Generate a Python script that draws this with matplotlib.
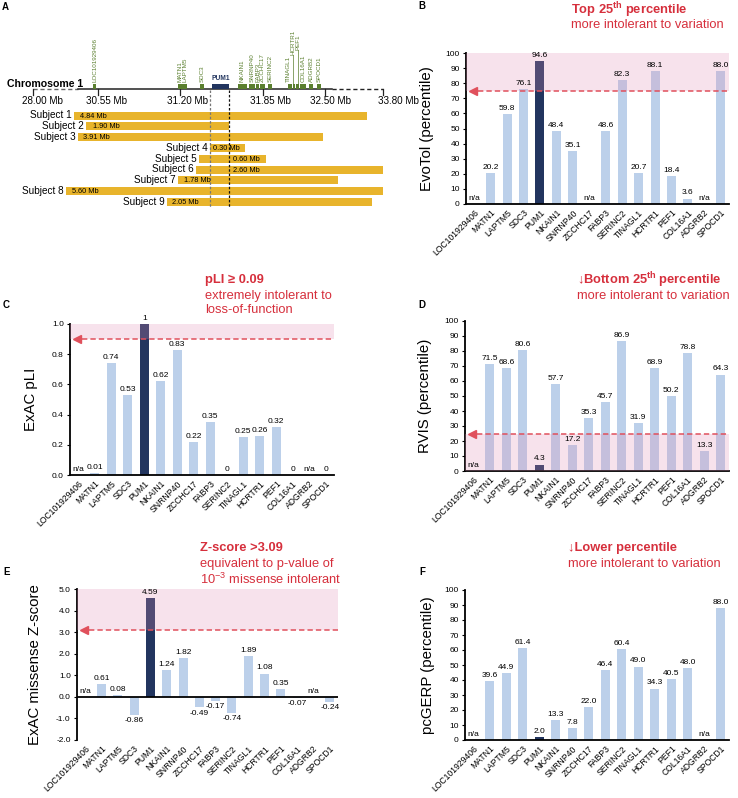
import matplotlib
matplotlib.use('Agg')
import matplotlib.pyplot as plt
import numpy as np
from matplotlib.transforms import blended_transform_factory

plt.rcParams['font.family'] = ['Liberation Sans', 'DejaVu Sans']
plt.rcParams['mathtext.fontset'] = 'custom'
plt.rcParams['mathtext.rm'] = 'Liberation Sans'
plt.rcParams['mathtext.bf'] = 'Liberation Sans:bold'
plt.rcParams['mathtext.it'] = 'Liberation Sans:italic'

# ---------------- data ----------------
genes = ['LOC101929406', 'MATN1', 'LAPTM5', 'SDC3', 'PUM1', 'NKAIN1', 'SNRNP40',
         'ZCCHC17', 'FABP3', 'SERINC2', 'TINAGL1', 'HCRTR1', 'PEF1', 'COL16A1',
         'ADGRB2', 'SPOCD1']
evotol = [None, 20.2, 59.8, 76.1, 94.6, 48.4, 35.1, None, 48.6, 82.3, 20.7, 88.1, 18.4, 3.6, None, 88.0]
pli = [None, 0.01, 0.74, 0.53, 1, 0.62, 0.83, 0.22, 0.35, 0, 0.25, 0.26, 0.32, 0, None, 0]
rvis = [None, 71.5, 68.6, 80.6, 4.3, 57.7, 17.2, 35.3, 45.7, 86.9, 31.9, 68.9, 50.2, 78.8, 13.3, 64.3]
zscore = [None, 0.61, 0.08, -0.86, 4.59, 1.24, 1.82, -0.49, -0.17, -0.74, 1.89, 1.08, 0.35, -0.07, None, -0.24]
pcgerp = [None, 39.6, 44.9, 61.4, 2.0, 13.3, 7.8, 22.0, 46.4, 60.4, 49.0, 34.3, 40.5, 48.0, None, 88.0]

# panel A schematic (schematic x units)
chrom_tick_labels = ['28.00 Mb', '30.55 Mb', '31.20 Mb', '31.85 Mb', '32.50 Mb', '33.80 Mb']
subjects = ['Subject %d' % i for i in range(1, 10)]
del_sizes = ['4.84 Mb', '1.90 Mb', '3.91 Mb', '0.30 Mb', '0.60 Mb', '2.60 Mb', '1.78 Mb', '5.60 Mb', '2.05 Mb']
del_start = [74, 86, 78, 210, 199, 196, 178, 66, 167]
del_end = [367, 229, 323, 245, 266, 383, 338, 383, 372]
region_genes = ['LOC101929406', 'MATN1', 'LAPTM5', 'SDC3', 'NKAIN1', 'SNRNP40', 'FABP3',
                'ZCCHC17', 'SERINC2', 'TINAGL1', 'HCRTR1', 'PEF1', 'COL16A1', 'ADGRB2', 'SPOCD1']
gene_start = [93, 178, 182.5, 200, 238, 249, 256, 260, 268, 288, 293, 296, 300, 309, 317]
gene_end = [96.5, 182, 187, 204, 247, 255, 259.5, 265, 272, 292, 295.5, 299, 306, 313, 321]
pum1_span = (212, 229)

# ---------------- style ----------------
W, H = 738, 798
LIGHT = '#bcd0ea'
NAVY = '#22355f'
RED = '#d62f3c'
DASH_RED = '#e0505c'
PINK = '#e38fb4'
YELLOW = '#e8b42c'
GREEN = '#5a7f2e'

fig = plt.figure(figsize=(W / 100, H / 100), dpi=100)


def px_axes(x0, y0, x1, y1):
    return fig.add_axes([x0 / W, 1 - y1 / H, (x1 - x0) / W, (y1 - y0) / H])


def ftext(x, y, s, **kw):
    fig.text(x / W, 1 - y / H, s, **kw)


# ---------------- Panel A ----------------
axA = px_axes(0, 0, 400, 215)
axA.set_xlim(0, 400)
axA.set_ylim(215, 0)
axA.axis('off')
CHR_Y = 89
axA.plot([33, 78], [CHR_Y, CHR_Y], ls=(0, (3, 2)), color='#666666', lw=1.0)
axA.plot([78, 332], [CHR_Y, CHR_Y], color='#222222', lw=1.1)
axA.plot([332, 383], [CHR_Y, CHR_Y], ls=(0, (3, 2)), color='#222222', lw=1.0)
tick_x = [33, 98, 180, 263, 325, 383]
tick_lbl_x = [43, 107, 188, 271, 331, 399]
for tx, lx, lab in zip(tick_x, tick_lbl_x, chrom_tick_labels):
    axA.plot([tx, tx], [CHR_Y, CHR_Y + 6], color='#222222', lw=0.9)
    axA.text(lx, CHR_Y + 12, lab, ha='center', va='center', fontsize=7.1)
axA.text(7, 84, 'Chromosome 1', ha='left', va='center', fontsize=7.6, fontweight='bold')

lift = {'HCRTR1': 55, 'PEF1': 50}
lbl_shift = {'TINAGL1': -1.5, 'HCRTR1': -1.5, 'PEF1': 1.0}
for g, s, e in zip(region_genes, gene_start, gene_end):
    axA.add_patch(plt.Rectangle((s, 83.5), e - s, 5.5, color=GREEN, lw=0, zorder=3))
    cx = (s + e) / 2 + lbl_shift.get(g, 0)
    yb = lift.get(g, 82)
    axA.text(cx, yb, g, rotation=90, ha='center', va='bottom', fontsize=4.5, color=GREEN)
    if g in lift:
        axA.plot([cx, cx], [yb, 83.5], color=GREEN, lw=0.5)
axA.add_patch(plt.Rectangle((pum1_span[0], 83.5), pum1_span[1] - pum1_span[0], 5.5,
                            color=NAVY, lw=0, zorder=3))
axA.text(sum(pum1_span) / 2, 81.5, 'PUM1', ha='center', va='bottom', fontsize=4.8,
         fontweight='bold', color=NAVY)

yc = [115.5 + 10.8 * i for i in range(len(subjects))]
size_lbl_x = [80, 93, 83, 213, 233, 233, 184, 72, 172]
axA.barh(yc, np.array(del_end) - np.array(del_start), left=del_start, height=8,
         color=YELLOW, zorder=2)
for y, s, name, sz, lx in zip(yc, del_start, subjects, del_sizes, size_lbl_x):
    axA.text(s - 2.5, y, name, ha='right', va='center', fontsize=7.2)
    axA.text(lx, y + 0.5, sz, ha='left', va='center', fontsize=5.3, zorder=5)
axA.plot([210, 210], [CHR_Y + 1, 207], ls=(0, (2, 1.5)), color='#777777', lw=0.9, zorder=4)
axA.plot([229, 229], [CHR_Y + 1, 207], ls=(0, (2, 1.5)), color='#111111', lw=0.9, zorder=4)


# ---------------- bar panels ----------------
def bar_panel(rect, vals, ylim, yticks, tickfmt, ylabel, ylab_x, valfmt,
              shade=None, thr=None, zero_axis=False):
    ax = px_axes(*rect)
    x = np.arange(len(genes))
    v = np.array([0 if a is None else a for a in vals], float)
    colors = [NAVY if g == 'PUM1' else LIGHT for g in genes]
    ax.bar(x, v, width=0.55, color=colors, zorder=2, lw=0)
    ax.set_xlim(-0.5, len(genes) - 0.5)
    ax.set_ylim(*ylim)
    ax.set_yticks(yticks)
    ax.set_yticklabels([tickfmt(t) for t in yticks], fontsize=6)
    ax.set_xticks(x)
    ax.set_xticklabels(genes, rotation=45, ha='right', rotation_mode='anchor', fontsize=6.2)
    ax.tick_params(axis='x', length=0, pad=3)
    ax.tick_params(axis='y', length=2.5, width=0.8, pad=2)
    for sp in ['top', 'right']:
        ax.spines[sp].set_visible(False)
    ax.spines['left'].set_linewidth(1.3)
    ax.spines['bottom'].set_linewidth(1.3)
    if zero_axis:
        ax.spines['bottom'].set_visible(False)
        ax.axhline(0, color='black', lw=1.3, zorder=6)
    ax.set_ylabel(ylabel, fontsize=10.8)
    ax.yaxis.set_label_coords(ylab_x, 0.5)
    for xi, val in zip(x, vals):
        if val is None:
            ax.annotate('n/a', (xi, 0), xytext=(0, 1.5), textcoords='offset points',
                        ha='center', va='bottom', fontsize=6, zorder=7)
        elif val >= 0:
            ax.annotate(valfmt(val), (xi, val), xytext=(0, 1.5), textcoords='offset points',
                        ha='center', va='bottom', fontsize=6, zorder=7)
        else:
            ax.annotate(valfmt(val), (xi, val), xytext=(0, -1.5), textcoords='offset points',
                        ha='center', va='top', fontsize=6, zorder=7)
    if shade is not None:
        ax.axhspan(shade[0], shade[1], color=PINK, alpha=0.25, lw=0, zorder=3)
    if thr is not None:
        tr = blended_transform_factory(ax.transAxes, ax.transData)
        ax.plot([0.045, 1], [thr, thr], transform=tr, ls=(0, (3.5, 2)), color=DASH_RED,
                lw=1.1, zorder=4, clip_on=False)
        ax.plot([0.028], [thr], transform=tr, marker='<', ms=6, color=DASH_RED,
                zorder=4, clip_on=False, lw=0)
    return ax


pct = lambda t: '%d' % t
one_dec = lambda v: '%.1f' % v
two_dec = lambda v: '%.2f' % v
pli_fmt = lambda v: '%d' % v if v in (0, 1) else '%.2f' % v

bar_panel((466, 53, 729, 204), evotol, (0, 100), range(0, 101, 10), pct,
          'EvoTol (percentile)', -0.122, one_dec, shade=(75, 100), thr=75)
bar_panel((70, 324, 334, 475), pli, (0, 1.0), np.arange(0, 1.01, 0.2), lambda t: '%.1f' % t,
          'ExAC pLI', -0.121, pli_fmt, shade=(0.9, 1.0), thr=0.9)
bar_panel((465, 321, 729, 471), rvis, (0, 100), range(0, 101, 10), pct,
          'RVIS (percentile)', -0.125, one_dec, shade=(0, 25), thr=25)
bar_panel((77, 589, 338, 740), zscore, (-2, 5), np.arange(-2, 5.01, 1.0), lambda t: '%.1f' % t,
          'ExAC missense Z-score', -0.134, two_dec, shade=(3.09, 5), thr=3.09, zero_axis=True)
bar_panel((465, 590, 729, 740), pcgerp, (0, 100), range(0, 101, 10), pct,
          'pcGERP (percentile)', -0.114, one_dec)

# ---------------- titles & panel letters ----------------
TF = 9.3
ftext(571, 10, r'Top 25$^{\mathbf{th}}$ percentile', color=RED, fontsize=TF, fontweight='bold', va='center')
ftext(571, 25, 'more intolerant to variation', color=RED, fontsize=TF, va='center')
ftext(205, 280, 'pLI ≥ 0.09', color=RED, fontsize=TF, fontweight='bold', va='center')
ftext(205, 296, 'extremely intolerant to', color=RED, fontsize=TF, va='center')
ftext(205, 310, 'loss-of-function', color=RED, fontsize=TF, va='center')
ftext(577, 280, r'↓Bottom 25$^{\mathbf{th}}$ percentile', color=RED, fontsize=TF, fontweight='bold', va='center')
ftext(577, 296, 'more intolerant to variation', color=RED, fontsize=TF, va='center')
ftext(200, 548, 'Z-score >3.09', color=RED, fontsize=TF, fontweight='bold', va='center')
ftext(200, 564, 'equivalent to p-value of', color=RED, fontsize=TF, va='center')
ftext(200, 579, r'10$^{-3}$ missense intolerant', color=RED, fontsize=TF, va='center')
ftext(568, 548, '↓Lower percentile', color=RED, fontsize=TF, fontweight='bold', va='center')
ftext(568, 564, 'more intolerant to variation', color=RED, fontsize=TF, va='center')

for lab, x, y in [('A', 2, 7), ('B', 418, 6), ('C', 3, 305), ('D', 418, 305),
                  ('E', 3, 572), ('F', 419, 572)]:
    ftext(x, y, lab, fontsize=7, fontweight='bold', va='center')

fig.savefig('out.png', dpi=100)
